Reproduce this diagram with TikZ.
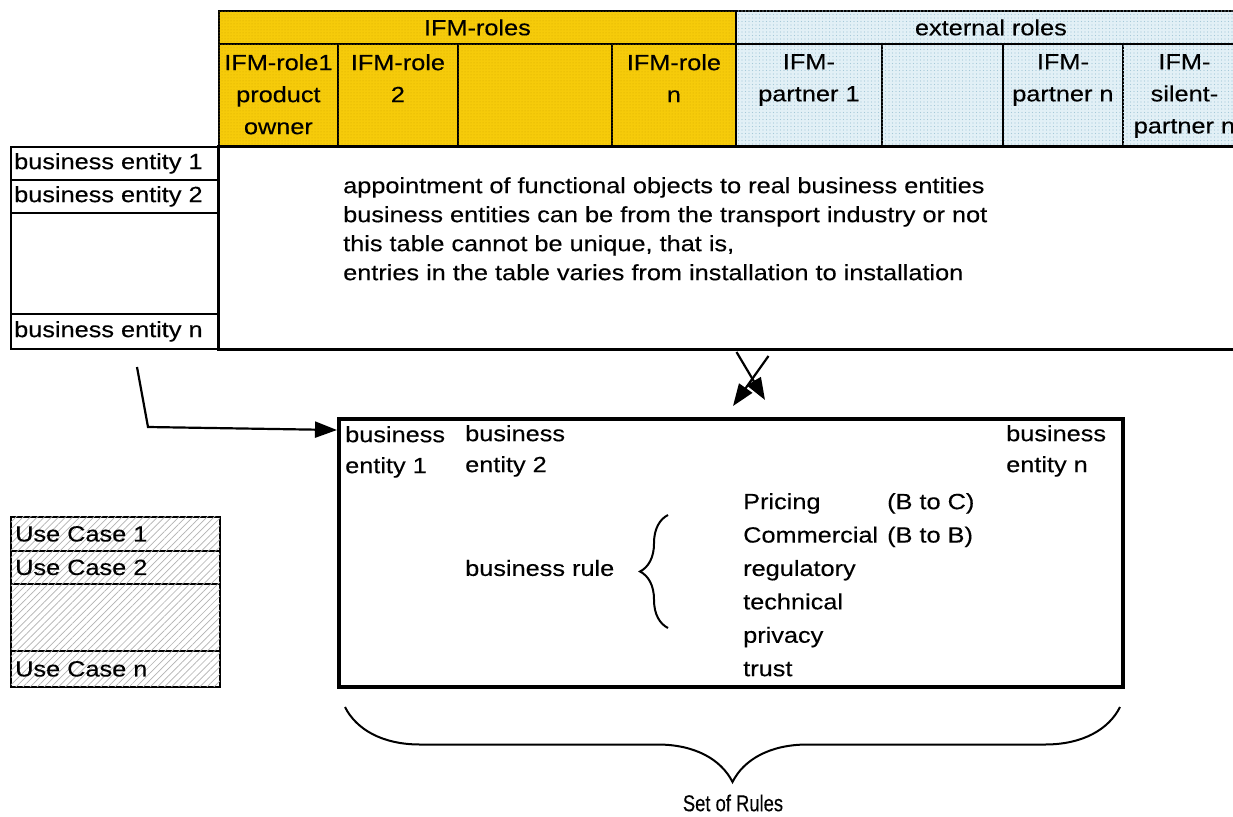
\documentclass[tikz,border=0pt]{standalone}
\usepackage{fontspec}
\setmainfont[FakeStretch=1.15,FakeBold=0.3]{Liberation Sans}
\newfontfamily\narrowsans[FakeStretch=0.8,FakeBold=0.3]{Liberation Sans}
\usetikzlibrary{arrows.meta,patterns.meta,decorations.pathreplacing}

\definecolor{roleyellow}{RGB}{246,203,10}
\definecolor{roledot}{RGB}{214,170,0}
\definecolor{extblue}{RGB}{226,240,246}
\definecolor{extdot}{RGB}{165,200,216}

\tikzset{
  every node/.style={font=\fontsize{22pt}{32pt}\selectfont, inner sep=0pt},
  cellbox/.style={draw, line width=1.8pt, anchor=north west, inner sep=0pt},
  yellowcell/.style={cellbox, fill=roleyellow,
    postaction={pattern={Dots[distance=3pt,radius=0.5pt]}, pattern color=roledot}},
  bluecell/.style={cellbox, fill=extblue,
    postaction={pattern={Dots[distance=3.5pt,radius=0.55pt]}, pattern color=extdot}},
  hatchcell/.style={cellbox, fill=white,
    postaction={pattern={Lines[angle=45,distance=5pt,line width=0.7pt]}, pattern color=black!30}},
  headtext/.style={anchor=north, align=center},
  rowtext/.style={anchor=west},
  bigtip/.style={-{Triangle[length=22pt,width=16pt]}, line width=2.2pt},
}

\begin{document}
\begin{tikzpicture}[x=1pt,y=-1pt]
\fill[white] (0,0) rectangle (1233,816);
\useasboundingbox (0,0) rectangle (1233,816);

% ---- role header ----
\node[yellowcell, minimum width=517pt, minimum height=33pt] (ifm) at (218,10) {};
\node at (ifm.center) {IFM-roles};
\node[bluecell, minimum width=510pt, minimum height=33pt] (ext) at (735,10) {};
\node at (ext.center) {external roles};

\node[yellowcell, minimum width=119pt, minimum height=102pt] (r1) at (218,43) {};
\node[yellowcell, minimum width=120pt, minimum height=102pt] (r2) at (337,43) {};
\node[yellowcell, minimum width=154pt, minimum height=102pt] (r3) at (457,43) {};
\node[yellowcell, minimum width=124pt, minimum height=102pt] (rn) at (611,43) {};
\node[bluecell, minimum width=146pt, minimum height=102pt] (p1) at (735,43) {};
\node[bluecell, minimum width=121pt, minimum height=102pt] (p2) at (881,43) {};
\node[bluecell, minimum width=120pt, minimum height=102pt] (pn) at (1002,43) {};
\node[bluecell, minimum width=123pt, minimum height=102pt] (ps) at (1122,43) {};

\node[headtext] at ([yshift=-11pt]r1.north) {IFM-role1\\product\\owner};
\node[headtext] at ([yshift=-11pt]r2.north) {IFM-role\\2};
\node[headtext] at ([yshift=-11pt]rn.north) {IFM-role\\n};
\node[headtext] at ([yshift=-11pt]p1.north) {IFM-\\partner 1};
\node[headtext] at ([yshift=-11pt]pn.north) {IFM-\\partner n};
\node[headtext] at ([yshift=-11pt]ps.north) {IFM-\\silent-\\partner n};

% ---- business entities and mapping area ----
\node[cellbox, minimum width=207pt, minimum height=33pt] (be1) at (10,146) {};
\node[cellbox, minimum width=207pt, minimum height=33pt] (be2) at (10,179) {};
\node[cellbox, minimum width=207pt, minimum height=101pt] (be3) at (10,212) {};
\node[cellbox, minimum width=207pt, minimum height=35pt] (ben) at (10,313) {};
\node[rowtext] at ([xshift=4pt]be1.west) {business entity 1};
\node[rowtext] at ([xshift=4pt]be2.west) {business entity 2};
\node[rowtext] at ([xshift=4pt]ben.west) {business entity n};

\node[cellbox, line width=3pt, minimum width=1028pt, minimum height=203pt] (body) at (217,145) {};
\node[anchor=north west, align=left, font=\fontsize{22pt}{29pt}\selectfont] (note) at (343,177)
  {appointment of functional objects to real business entities\\
   business entities can be from the transport industry or not\\
   this table cannot be unique, that is,\\
   entries in the table varies from installation to installation};

% ---- set of rules ----
\node[draw, line width=4pt, anchor=north west, minimum width=784pt, minimum height=268pt] (rules) at (337,417) {};

\node[anchor=north west, align=left, font=\fontsize{22pt}{31pt}\selectfont] (e1) at (345,426) {business\\entity 1};
\node[anchor=north west, align=left, font=\fontsize{22pt}{31pt}\selectfont] (e2) at (465,425) {business\\entity 2};
\node[anchor=north west, align=left, font=\fontsize{22pt}{31pt}\selectfont] (en) at (1006,425) {business\\entity n};

\node[rowtext] (brule) at (465,568) {business rule};
\draw[decorate, decoration={brace, amplitude=28pt}, line width=2pt] (668,628) -- (668,515);

\node[anchor=north west, align=left, font=\fontsize{22pt}{33.4pt}\selectfont] (kinds) at (743,493)
  {Pricing\\Commercial\\regulatory\\technical\\privacy\\trust};
\node[anchor=north west, align=left, font=\fontsize{22pt}{33.4pt}\selectfont] (scope) at (887,493)
  {(B to C)\\(B to B)};

% ---- connectors ----
\coordinate (d1) at (765,400);
\coordinate (d2) at (733,406);
\draw[bigtip] ([xshift=4pt,yshift=-1pt]body.south) -- (d1);
\draw[bigtip] ([xshift=36pt,yshift=-5pt]body.south) -- (d2);

\coordinate (lstart) at (137,367);
\coordinate (lbend) at (148,427);
\draw[bigtip] (lstart) -- (lbend) -- ([yshift=-13pt]rules.north west);

% ---- use cases ----
\node[hatchcell, minimum width=209pt, minimum height=34pt] (uc1) at (10,516) {};
\node[hatchcell, minimum width=209pt, minimum height=33pt] (uc2) at (10,550) {};
\node[hatchcell, minimum width=209pt, minimum height=67pt] (uc3) at (10,583) {};
\node[hatchcell, minimum width=209pt, minimum height=36pt] (ucn) at (10,650) {};
\node[rowtext] at ([xshift=5pt]uc1.west) {Use Case 1};
\node[rowtext] at ([xshift=5pt]uc2.west) {Use Case 2};
\node[rowtext] at ([xshift=5pt]ucn.west) {Use Case n};

% ---- brace under the rule box ----
\coordinate (bl) at (345,707);
\coordinate (br) at (1120,707);
\draw[decorate, decoration={brace, amplitude=75pt}, line width=2pt] (br) -- (bl);
\node[font=\narrowsans\fontsize{23pt}{25pt}\selectfont] (setrules) at (733,803) {Set of Rules};
\end{tikzpicture}
\end{document}
